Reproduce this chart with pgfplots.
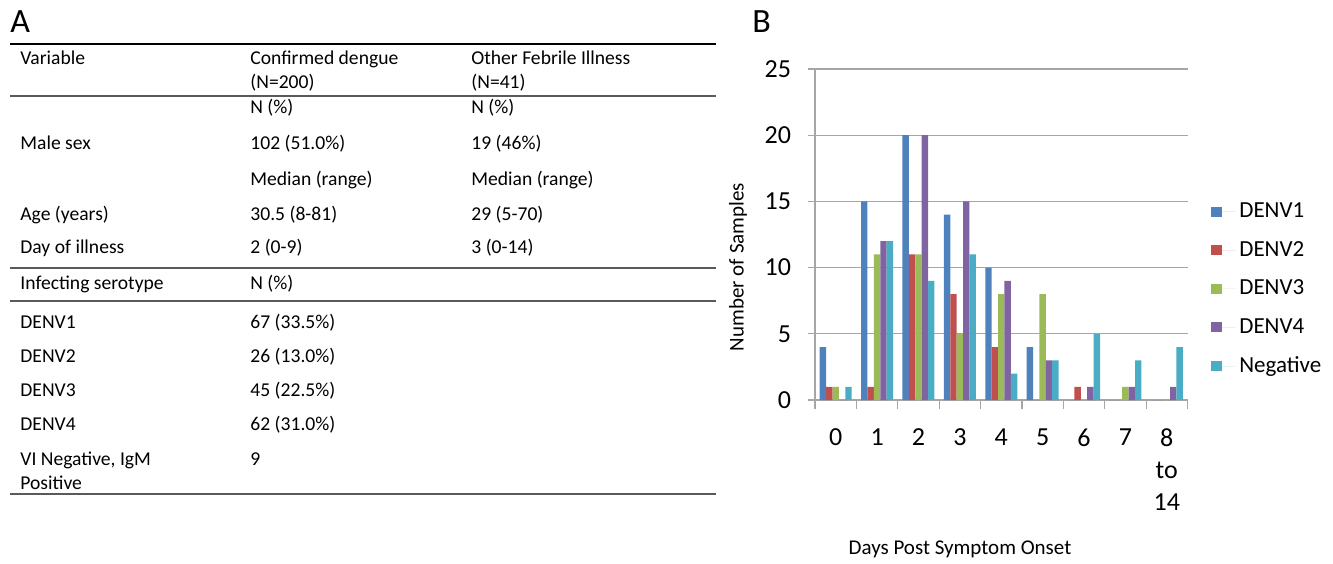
\documentclass[border=0pt]{standalone}
\usepackage{fontspec}
\setmainfont{Carlito}
\usepackage{pgfplots}
\pgfplotsset{compat=1.18}

\definecolor{d1}{HTML}{4F81BD}
\definecolor{d2}{HTML}{C0504D}
\definecolor{d3}{HTML}{9BBB59}
\definecolor{d4}{HTML}{8064A2}
\definecolor{neg}{HTML}{4BACC6}
\definecolor{gridc}{HTML}{A6A6A6}
\definecolor{rulec}{HTML}{5A5A5A}

\newcommand{\tfont}{\fontsize{9.8pt}{12pt}\selectfont}
\newcommand{\tickfont}{\fontsize{13pt}{16pt}\selectfont}
\newcommand{\legfont}{\fontsize{11.5pt}{14pt}\selectfont}
\newcommand{\labfont}{\fontsize{10.5pt}{13pt}\selectfont}

\begin{document}
\begin{tikzpicture}
\useasboundingbox (0,0) rectangle (666.5pt,-281.5pt);

% panel A: table, coordinates in pixels of the reference
\begin{scope}[x=0.5pt,y=-0.5pt,every node/.style={anchor=base west,inner sep=0pt,font=\tfont}]
  \node[font=\fontsize{17pt}{20pt}\selectfont] at (10,32) {A};
  \draw[black,line width=1pt] (10,44) -- (716,44);
  \node at (20,64) {Variable};
  \node at (250,64) {Confirmed dengue};
  \node at (250,88) {(N=200)};
  \node at (471,64) {Other Febrile Illness};
  \node at (471,88) {(N=41)};
  \draw[rulec,line width=1.4pt] (10,96) -- (716,96);
  \node at (250,113) {N (\%)};
  \node at (471,113) {N (\%)};
  \node at (20,149) {Male sex};
  \node at (250,149) {102 (51.0\%)};
  \node at (471,149) {19 (46\%)};
  \node at (250,185) {Median (range)};
  \node at (471,185) {Median (range)};
  \node at (20,220) {Age (years)};
  \node at (250,220) {30.5 (8-81)};
  \node at (471,220) {29 (5-70)};
  \node at (20,253) {Day of illness};
  \node at (250,253) {2 (0-9)};
  \node at (471,253) {3 (0-14)};
  \draw[rulec,line width=1.4pt] (10,268) -- (716,268);
  \node at (20,289) {Infecting serotype};
  \node at (250,289) {N (\%)};
  \draw[rulec,line width=1.4pt] (10,301) -- (716,301);
  \node at (20,328) {DENV1};
  \node at (250,328) {67 (33.5\%)};
  \node at (20,362) {DENV2};
  \node at (250,362) {26 (13.0\%)};
  \node at (20,396) {DENV3};
  \node at (250,396) {45 (22.5\%)};
  \node at (20,430) {DENV4};
  \node at (250,430) {62 (31.0\%)};
  \node at (20,465) {VI Negative, IgM};
  \node at (20,489) {Positive};
  \node at (250,465) {9};
  \draw[rulec,line width=1.2pt] (10,494) -- (716,494);

  % panel B letter and axis titles
  \node[font=\fontsize{17pt}{20pt}\selectfont] at (752,32) {B};
  \node[anchor=center,rotate=90,font=\labfont] at (738,267) {Number of Samples};
  \node[anchor=center,font=\labfont] at (960,549) {Days Post Symptom Onset};
\end{scope}

% panel B: bar chart
\begin{axis}[
  at={(407.5pt,-200pt)}, anchor=south west,
  scale only axis, width=186.25pt, height=165.5pt,
  ybar=0pt, bar width=3.2pt,
  xmin=-0.5, xmax=8.5, ymin=0, ymax=25,
  xtick={0,...,8},
  xticklabels={0,1,2,3,4,5,6,7,{8\\to\\14}},
  minor xtick={-0.5,0.5,...,8.5},
  ytick={0,5,...,25},
  axis x line*=bottom, axis y line*=left,
  axis line style={gridc, line width=0.6pt},
  tick align=outside,
  major tick length=3.5pt, minor tick length=4.5pt,
  major x tick style={draw=none},
  minor x tick style={gridc, line width=0.6pt},
  ytick style={gridc, line width=0.6pt},
  ymajorgrids, grid style={gridc, line width=0.6pt},
  /pgf/number format/assume math mode=true,
  xticklabel style={font=\tickfont, align=center, yshift=-7.5pt},
  yticklabel style={font=\tickfont, xshift=-5pt},
  legend style={at={(1.063,0.609)}, anchor=north west, draw=none, fill=none,
    font=\legfont, row sep=6.3pt, inner sep=0pt, cells={anchor=west}},
  legend image code/.code={\fill[#1] (0pt,-2.6pt) rectangle (5.2pt,2.6pt);
    \path (0pt,0pt) -- (12pt,0pt);},
]
\addplot[fill=d1, draw=none] coordinates {(0,4) (1,15) (2,20) (3,14) (4,10) (5,4) (6,0) (7,0) (8,0)};
\addplot[fill=d2, draw=none] coordinates {(0,1) (1,1) (2,11) (3,8) (4,4) (5,0) (6,1) (7,0) (8,0)};
\addplot[fill=d3, draw=none] coordinates {(0,1) (1,11) (2,11) (3,5) (4,8) (5,8) (6,0) (7,1) (8,0)};
\addplot[fill=d4, draw=none] coordinates {(0,0) (1,12) (2,20) (3,15) (4,9) (5,3) (6,1) (7,1) (8,1)};
\addplot[fill=neg, draw=none] coordinates {(0,1) (1,12) (2,9) (3,11) (4,2) (5,3) (6,5) (7,3) (8,4)};
\legend{DENV1, DENV2, DENV3, DENV4, Negative}
\end{axis}
\end{tikzpicture}
\end{document}
